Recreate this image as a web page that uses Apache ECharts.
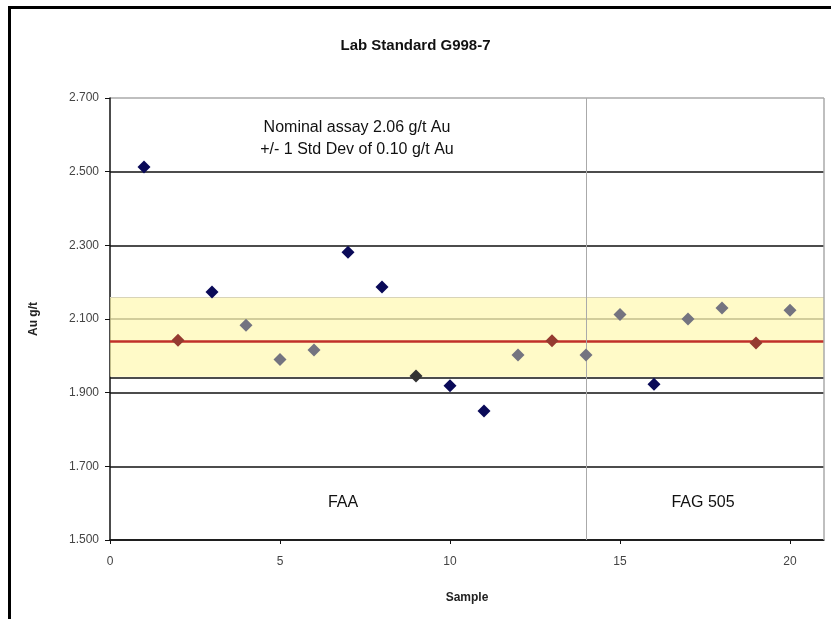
<!DOCTYPE html>
<html>
<head>
<meta charset="utf-8">
<script src="https://cdn.jsdelivr.net/npm/echarts@6/dist/echarts.min.js"></script>
<style>
html,body{margin:0;padding:0;background:#fff;}
#chart{width:831px;height:619px;}
</style>
</head>
<body>
<div id="chart"></div>
<script>
// ---- data ----
var sampleNo = [1,2,3,4,5,6,7,8,9,10,11,12,13,14,15,16,17,18,19,20];
var auValue  = [2.513,2.042,2.173,2.083,1.990,2.016,2.281,2.187,1.945,1.919,1.850,2.002,2.041,2.002,2.112,1.923,2.100,2.130,2.035,2.124];
var pointGroup = ['navy','red','navy','grey','grey','grey','navy','navy','dark','navy','navy','grey','red','grey','grey','navy','grey','grey','red','grey'];
var yTicks = [1.5,1.7,1.9,2.1,2.3,2.5,2.7];
var xTicks = [0,5,10,15,20];
var nominalLine = 2.042;
var bandLow = 1.943;
var bandHigh = 2.158;
var methodSplit = 14;
var titleText = 'Lab Standard G998-7';
var noteLines = ['Nominal assay 2.06 g/t Au', '+/- 1 Std Dev of 0.10 g/t Au'];
var methodLabels = ['FAA', 'FAG 505'];

var groupColors = {navy:'#0a0a58', red:'#953a30', grey:'#747480', dark:'#333333'};

var chart = echarts.init(document.getElementById('chart'));

var series = [];
Object.keys(groupColors).forEach(function(g){
  var pts = [];
  for (var i=0;i<sampleNo.length;i++){ if (pointGroup[i]===g) pts.push([sampleNo[i], auValue[i]]); }
  series.push({
    type:'scatter', name:g, data:pts, symbol:'diamond', symbolSize:13, z:5,
    itemStyle:{color:groupColors[g], opacity:1}
  });
});

// reference band / lines
series.push({
  type:'scatter', data:[], silent:true, z:1,
  markArea:{silent:true, itemStyle:{color:'rgba(255,248,170,0.65)'},
    data:[[{yAxis:bandLow},{yAxis:bandHigh}]]},
  markLine:{silent:true, symbol:'none', label:{show:false},
    data:[
      {yAxis:nominalLine, lineStyle:{color:'#c0302a', width:2.5, type:'solid'}},
      {yAxis:bandLow, lineStyle:{color:'#111', width:1.5, type:'solid'}},
      {yAxis:bandHigh, lineStyle:{color:'#d8d4b8', width:1, type:'solid'}},
      {xAxis:methodSplit, lineStyle:{color:'#aaaaaa', width:1, type:'solid'}},
      {xAxis:21, lineStyle:{color:'#aaaaaa', width:1.5, type:'solid'}}
    ]}
});

var font = 'Liberation Sans, Arial, sans-serif';
var option = {
  backgroundColor:'#fff',
  animation:false,
  title:{text:titleText, left:'center', top:33,
    textStyle:{fontFamily:font, fontSize:15, fontWeight:'bold', color:'#111'}},
  grid:{left:110, right:7, top:98, bottom:79},
  xAxis:{type:'value', min:0, max:21, interval:5,
    name:'Sample', nameLocation:'middle', nameGap:52,
    nameTextStyle:{fontFamily:font, fontSize:12, fontWeight:'bold', color:'#222'},
    axisLine:{lineStyle:{color:'#111', width:1.5}},
    axisTick:{show:true, length:4, lineStyle:{color:'#111'}},
    axisLabel:{showMaxLabel:false, margin:16, color:'#444', fontFamily:font, fontSize:12,
      formatter:function(v){ return xTicks.indexOf(v)>=0 ? String(v) : ''; }},
    splitLine:{show:false}},
  yAxis:{type:'value', min:yTicks[0], max:yTicks[yTicks.length-1], interval:0.2,
    name:'Au g/t', nameLocation:'middle', nameGap:70, nameRotate:90,
    nameTextStyle:{fontFamily:font, fontSize:12, fontWeight:'bold', color:'#222'},
    axisLine:{show:true, lineStyle:{color:'#111', width:1.5}},
    axisTick:{show:true, length:5, lineStyle:{color:'#111'}},
    axisLabel:{margin:11, color:'#444', fontFamily:font, fontSize:12,
      formatter:function(v){ return v.toFixed(3); }},
    splitLine:{show:true, lineStyle:{width:1.5, color:['#111','#111','#111','#555','#111','#111','#aaaaaa']}}},
  graphic:[
    {type:'rect', left:7, top:5, shape:{x:0,y:0,width:840,height:640}, style:{fill:'none', stroke:'#000', lineWidth:3}, silent:true, z:0},
    {type:'text', x:357, y:128, style:{text:noteLines[0], fill:'#111', font:'16px '+font, textAlign:'center', textVerticalAlign:'middle'}, z:10},
    {type:'text', x:357, y:150, style:{text:noteLines[1], fill:'#111', font:'16px '+font, textAlign:'center', textVerticalAlign:'middle'}, z:10},
    {type:'text', x:343, y:503, style:{text:methodLabels[0], fill:'#111', font:'16px '+font, textAlign:'center', textVerticalAlign:'middle'}, z:10},
    {type:'text', x:703, y:503, style:{text:methodLabels[1], fill:'#111', font:'16px '+font, textAlign:'center', textVerticalAlign:'middle'}, z:10}
  ],
  series:series
};
chart.setOption(option);
</script>
</body>
</html>
